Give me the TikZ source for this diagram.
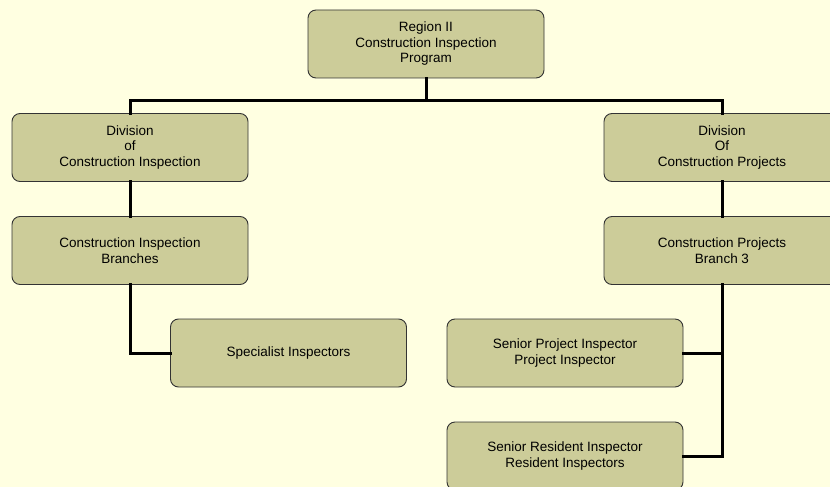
\documentclass[tikz,border=0pt]{standalone}
\usepackage{fontspec}
\setmainfont{Liberation Sans}
\usepackage{tikz}
\definecolor{paper}{RGB}{255, 255, 225}
\definecolor{olive}{RGB}{204, 204, 153}
\definecolor{rim}{RGB}{51, 51, 51}

\begin{document}
\begin{tikzpicture}[x=1pt, y=-1pt,
    unit/.style={draw=rim, fill=olive, line width=0.9pt, rounded corners=8pt,
      minimum width=236pt, minimum height=68pt, align=center,
      font=\fontsize{13.5}{15.5}\selectfont},
    wire/.style={line width=3pt, line cap=rect}]

  \fill[paper] (0, 0) rectangle (830, 487);
  \useasboundingbox (0, 0) rectangle (830, 487);

  \node[unit] (prog) at (426, 44) {Region II\\Construction Inspection\\Program};
  \coordinate (bus) at (426, 100);

  \node[unit] (divci) at (130, 147.5) {Division\\of\\Construction Inspection};
  \node[unit] (cib) at (130, 250.5) {Construction Inspection\\Branches};
  \node[unit] (spec) at (288.5, 353) {Specialist Inspectors};

  \node[unit] (divcp) at (722, 147.5) {Division\\Of\\Construction Projects};
  \node[unit] (cpb) at (722, 250.5) {Construction Projects\\Branch 3};
  \node[unit] (spi) at (565, 353) {Senior Project Inspector\\Project Inspector};
  \node[unit] (sri) at (565, 456) {Senior Resident Inspector\\Resident Inspectors};

  \draw[wire] (prog.south) -- (bus);
  \draw[wire] (divci.north) |- (bus) -| (divcp.north);
  \draw[wire] (divci.south) -- (cib.north);
  \draw[wire] (cib.south) |- (spec.west);
  \draw[wire] (divcp.south) -- (cpb.north);
  \draw[wire] (cpb.south) |- (spi.east);
  \draw[wire] (cpb.south) |- (sri.east);

\end{tikzpicture}
\end{document}
